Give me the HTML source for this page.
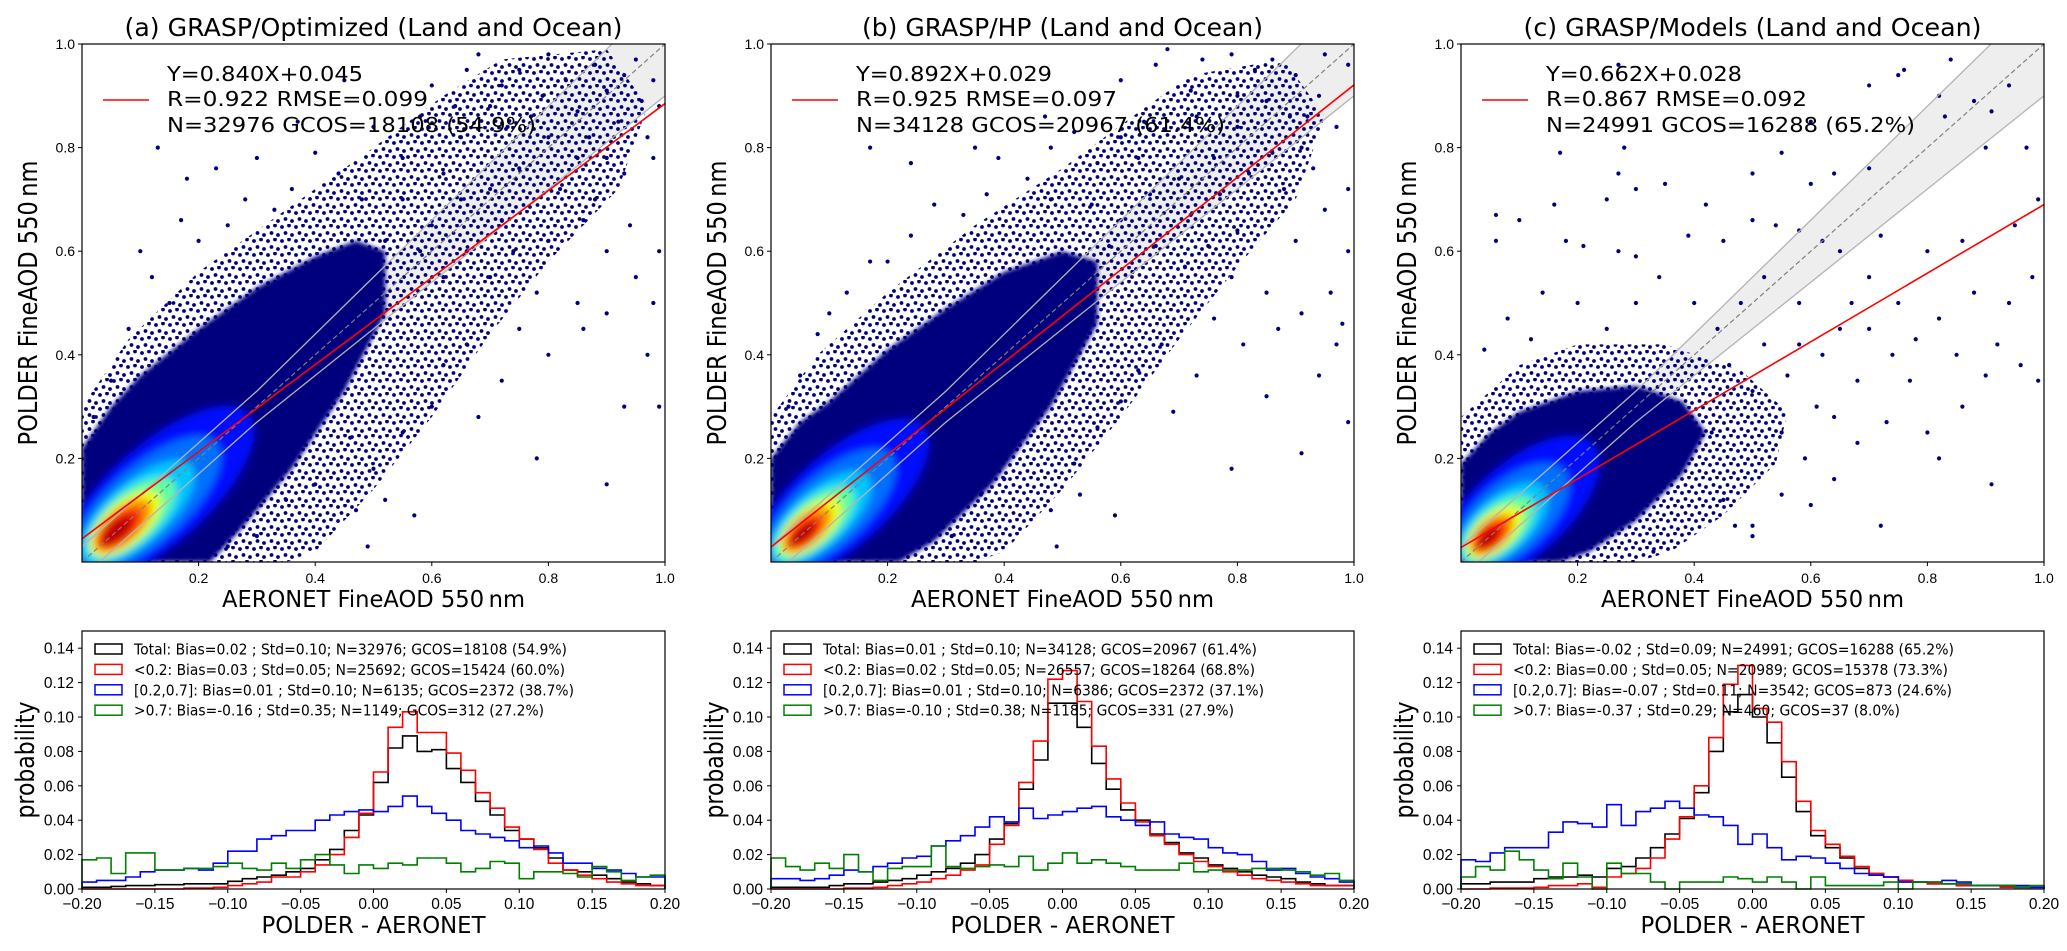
<!DOCTYPE html>
<html><head><meta charset="utf-8"><title>POLDER vs AERONET FineAOD</title>
<style>
html,body{margin:0;padding:0;background:#fff;}
svg{display:block;font-family:"DejaVu Sans","Liberation Sans",sans-serif;}
.tk{font-family:"Liberation Sans",sans-serif;font-size:14px;fill:#000;}
.htk{font-family:"Liberation Sans",sans-serif;font-size:15.5px;fill:#000;}
</style></head>
<body>
<svg id="fig" width="2067" height="951" viewBox="0 0 2067 951" xmlns="http://www.w3.org/2000/svg">
<defs>
<pattern id="stip" width="14" height="14" patternUnits="userSpaceOnUse"><circle cx="2" cy="3" r="1.9" fill="#00007f"/><circle cx="9" cy="1.5" r="1.9" fill="#00007f"/><circle cx="5.5" cy="9" r="1.9" fill="#00007f"/><circle cx="12" cy="11" r="1.9" fill="#00007f"/></pattern>
<filter id="blur" x="-50%" y="-50%" width="200%" height="200%"><feGaussianBlur stdDeviation="4"/></filter>
<filter id="soft" x="-10%" y="-10%" width="120%" height="120%"><feGaussianBlur stdDeviation="2.5"/></filter>
</defs>
</svg>
<script>
// ---------- data ----------
const panelTitles=["(a) GRASP/Optimized (Land and Ocean)","(b) GRASP/HP (Land and Ocean)","(c) GRASP/Models (Land and Ocean)"];
const fitSlope=[0.840,0.892,0.662];
const fitIntercept=[0.045,0.029,0.028];
const statLine1=["Y=0.840X+0.045","Y=0.892X+0.029","Y=0.662X+0.028"];
const statLine2=["R=0.922  RMSE=0.099","R=0.925  RMSE=0.097","R=0.867  RMSE=0.092"];
const statLine3=["N=32976 GCOS=18108 (54.9%)","N=34128 GCOS=20967 (61.4%)","N=24991 GCOS=16288 (65.2%)"];
const scatterTicks=[0.2,0.4,0.6,0.8,1.0];
const scatterTickLabels=["0.2","0.4","0.6","0.8","1.0"];
const histXTicks=[-0.2,-0.15,-0.1,-0.05,0,0.05,0.1,0.15,0.2];
const histXTickLabels=["\u22120.20","\u22120.15","\u22120.10","\u22120.05","0.00","0.05","0.10","0.15","0.20"];
const histYTicks=[0,0.02,0.04,0.06,0.08,0.10,0.12,0.14];
const histYTickLabels=["0.00","0.02","0.04","0.06","0.08","0.10","0.12","0.14"];
const binStart=-0.2, binWidth=0.01;

const denseA=[[0,0.22],[0.05,0.3],[0.1,0.36],[0.2,0.45],[0.3,0.53],[0.4,0.59],[0.47,0.62],[0.52,0.6],[0.52,0.48],[0.45,0.33],[0.36,0.18],[0.27,0.06],[0.22,0],[0,0]];
const denseB=[[0,0.2],[0.05,0.27],[0.1,0.31],[0.2,0.41],[0.3,0.49],[0.4,0.56],[0.5,0.6],[0.56,0.58],[0.56,0.46],[0.48,0.3],[0.38,0.15],[0.28,0.04],[0.22,0],[0,0]];
const denseC=[[0,0.19],[0.05,0.25],[0.1,0.29],[0.2,0.33],[0.3,0.34],[0.38,0.31],[0.42,0.25],[0.38,0.17],[0.3,0.08],[0.22,0.02],[0.17,0],[0,0]];
const mediumA=[[0,0.3],[0.08,0.43],[0.2,0.56],[0.35,0.68],[0.5,0.8],[0.62,0.9],[0.72,0.97],[0.9,0.99],[0.97,0.88],[0.92,0.72],[0.8,0.58],[0.7,0.44],[0.6,0.28],[0.5,0.14],[0.4,0.02],[0.35,0],[0,0]];
const mediumB=[[0,0.28],[0.08,0.4],[0.2,0.52],[0.35,0.65],[0.5,0.76],[0.62,0.86],[0.72,0.94],[0.88,0.97],[0.95,0.86],[0.9,0.7],[0.8,0.57],[0.7,0.43],[0.6,0.28],[0.5,0.14],[0.4,0.02],[0.35,0],[0,0]];
const mediumC=[[0,0.28],[0.1,0.38],[0.2,0.42],[0.35,0.42],[0.48,0.37],[0.56,0.29],[0.54,0.19],[0.45,0.09],[0.36,0.02],[0.3,0],[0,0]];

// density levels: [centre, along-diagonal half length, across half width, colour]
const densA=[[0.13,0.22,0.09,"#0010ff"],[0.11,0.17,0.07,"#0070ff"],[0.095,0.13,0.055,"#00c8ff"],[0.085,0.1,0.045,"#60ffa0"],[0.075,0.08,0.037,"#e8ff10"],[0.07,0.065,0.03,"#ff9000"],[0.065,0.05,0.024,"#ff2000"],[0.06,0.035,0.017,"#c00000"]];
const densB=[[0.12,0.2,0.085,"#0010ff"],[0.1,0.15,0.065,"#0070ff"],[0.085,0.115,0.05,"#00c8ff"],[0.075,0.09,0.04,"#60ffa0"],[0.068,0.07,0.032,"#e8ff10"],[0.062,0.055,0.026,"#ff9000"],[0.058,0.04,0.02,"#ff2000"],[0.055,0.028,0.014,"#c00000"]];
const densC=[[0.1,0.18,0.085,"#0010ff"],[0.085,0.13,0.065,"#0070ff"],[0.072,0.1,0.05,"#00c8ff"],[0.064,0.08,0.04,"#60ffa0"],[0.058,0.062,0.032,"#e8ff10"],[0.053,0.048,0.026,"#ff9000"],[0.05,0.036,0.02,"#ff2000"],[0.047,0.025,0.014,"#c00000"]];

const pointsA=[[0.68,0.98],[0.75,0.95],[0.72,0.92],[0.8,0.98],[0.83,0.93],[0.88,0.96],[0.9,0.91],[0.95,0.97],[0.98,0.93],[0.7,0.88],[0.77,0.86],[0.85,0.87],[0.92,0.85],[0.97,0.82],[0.65,0.82],[0.58,0.86],[0.5,0.84],[0.45,0.93],[0.37,0.85],[0.13,0.8],[0.23,0.76],[0.18,0.74],[0.3,0.78],[0.4,0.79],[0.55,0.78],[0.62,0.75],[0.75,0.76],[0.82,0.72],[0.88,0.7],[0.93,0.75],[0.98,0.78],[0.94,0.65],[0.99,0.6],[0.9,0.6],[0.86,0.66],[0.8,0.62],[0.74,0.6],[0.7,0.55],[0.78,0.52],[0.85,0.5],[0.9,0.48],[0.95,0.55],[0.97,0.4],[0.93,0.3],[0.86,0.45],[0.8,0.4],[0.75,0.45],[0.72,0.35],[0.66,0.42],[0.62,0.38],[0.6,0.3],[0.68,0.28],[0.78,0.2],[0.55,0.25],[0.5,0.18],[0.47,0.1],[0.52,0.12],[0.57,0.09],[0.49,0.03],[0.9,0.15],[0.46,0.24],[0.42,0.3],[0.35,0.12],[0.3,0.05],[0.25,0.03],[0.4,0.15],[0.32,0.22],[0.1,0.6],[0.08,0.45],[0.12,0.55],[0.15,0.5],[0.2,0.62],[0.25,0.65],[0.28,0.7],[0.33,0.68],[0.36,0.72],[0.44,0.75],[0.48,0.7],[0.05,0.35],[0.02,0.28],[0.17,0.66],[0.6,0.65],[0.65,0.7],[0.7,0.72],[0.66,0.6],[0.62,0.55],[0.58,0.6],[0.55,0.7],[0.52,0.62],[0.72,0.66],[0.8,0.82],[0.85,0.78],[0.6,0.92],[0.66,0.95],[0.9,0.78],[0.98,0.5],[0.99,0.88],[0.96,0.89],[0.93,0.94],[0.87,0.82],[0.79,0.9],[0.73,0.84],[0.64,0.88],[0.99,0.3]];
const pointsB=[[0.68,0.99],[0.74,0.97],[0.79,0.98],[0.83,0.95],[0.86,0.97],[0.9,0.94],[0.95,0.98],[0.99,0.96],[0.72,0.91],[0.8,0.9],[0.85,0.89],[0.92,0.86],[0.97,0.84],[0.64,0.85],[0.6,0.82],[0.52,0.83],[0.47,0.86],[0.35,0.8],[0.17,0.8],[0.24,0.77],[0.39,0.78],[0.48,0.8],[0.56,0.77],[0.63,0.78],[0.76,0.78],[0.82,0.75],[0.88,0.72],[0.93,0.76],[0.99,0.72],[0.95,0.68],[0.99,0.6],[0.9,0.62],[0.86,0.66],[0.8,0.64],[0.75,0.61],[0.71,0.57],[0.79,0.55],[0.85,0.52],[0.91,0.48],[0.96,0.52],[0.97,0.42],[0.94,0.36],[0.87,0.45],[0.81,0.42],[0.76,0.47],[0.73,0.36],[0.67,0.42],[0.63,0.37],[0.6,0.31],[0.69,0.29],[0.79,0.18],[0.56,0.26],[0.52,0.19],[0.48,0.1],[0.53,0.13],[0.59,0.09],[0.49,0.03],[0.91,0.21],[0.85,0.32],[0.99,0.27],[0.41,0.23],[0.36,0.13],[0.31,0.05],[0.4,0.16],[0.33,0.22],[0.1,0.48],[0.08,0.44],[0.13,0.52],[0.17,0.58],[0.2,0.58],[0.24,0.63],[0.28,0.69],[0.33,0.67],[0.37,0.71],[0.44,0.74],[0.48,0.7],[0.05,0.36],[0.03,0.3],[0.6,0.66],[0.65,0.71],[0.7,0.74],[0.66,0.61],[0.62,0.56],[0.58,0.61],[0.55,0.69],[0.72,0.67],[0.8,0.84],[0.86,0.79],[0.6,0.93],[0.66,0.96],[0.91,0.8],[0.98,0.46],[0.94,0.9],[0.89,0.86],[0.73,0.86],[0.77,0.71]];
const pointsC=[[0.27,0.96],[0.28,0.8],[0.17,0.79],[0.7,0.92],[0.75,0.94],[0.84,0.97],[0.76,0.95],[0.82,0.9],[0.88,0.89],[0.91,0.87],[0.94,0.92],[0.97,0.8],[0.9,0.8],[0.83,0.86],[0.6,0.85],[0.55,0.79],[0.5,0.75],[0.6,0.73],[0.64,0.75],[0.7,0.76],[0.42,0.69],[0.35,0.73],[0.27,0.75],[0.3,0.72],[0.25,0.7],[0.16,0.69],[0.06,0.67],[0.06,0.62],[0.1,0.66],[0.18,0.62],[0.21,0.61],[0.27,0.6],[0.3,0.59],[0.39,0.63],[0.45,0.62],[0.5,0.66],[0.54,0.65],[0.58,0.64],[0.62,0.62],[0.65,0.6],[0.72,0.63],[0.8,0.6],[0.86,0.62],[0.95,0.65],[0.99,0.7],[0.98,0.55],[0.94,0.5],[0.88,0.52],[0.82,0.47],[0.78,0.43],[0.75,0.5],[0.7,0.55],[0.92,0.42],[0.96,0.38],[0.99,0.35],[0.9,0.36],[0.86,0.3],[0.8,0.25],[0.77,0.35],[0.73,0.27],[0.68,0.23],[0.64,0.16],[0.6,0.11],[0.55,0.13],[0.5,0.07],[0.47,0.07],[0.72,0.07],[0.82,0.2],[0.91,0.15],[0.59,0.2],[0.55,0.25],[0.61,0.3],[0.68,0.35],[0.65,0.45],[0.58,0.5],[0.52,0.55],[0.48,0.5],[0.44,0.45],[0.4,0.5],[0.34,0.55],[0.3,0.5],[0.2,0.5],[0.14,0.52],[0.08,0.47],[0.04,0.41],[0.12,0.43],[0.25,0.45],[0.5,0.05],[0.33,0.02],[0.45,0.12],[0.7,0.45],[0.74,0.4],[0.85,0.4],[0.64,0.28],[0.56,0.36],[0.52,0.42],[0.62,0.4],[0.67,0.5],[0.58,0.42],[0.46,0.38],[0.5,0.33],[0.43,0.25]];

const histTotalA=[0.001,0.001,0.0015,0.002,0.002,0.0025,0.0025,0.003,0.003,0.003,0.0045,0.006,0.007,0.008,0.010,0.012,0.017,0.023,0.034,0.043,0.062,0.082,0.089,0.080,0.081,0.070,0.062,0.051,0.043,0.034,0.029,0.024,0.018,0.011,0.010,0.008,0.006,0.004,0.003,0.002];
const histLowA=[0,0,0,0,0,0,0,0.0005,0.0005,0.001,0.002,0.003,0.004,0.007,0.007,0.010,0.014,0.020,0.030,0.044,0.068,0.094,0.103,0.091,0.091,0.079,0.069,0.056,0.047,0.036,0.029,0.023,0.015,0.011,0.008,0.006,0.004,0.003,0.002,0.002];
const histMidA=[0.004,0.005,0.005,0.007,0.010,0.011,0.011,0.012,0.011,0.015,0.022,0.022,0.029,0.031,0.034,0.034,0.040,0.043,0.045,0.046,0.045,0.048,0.054,0.048,0.044,0.040,0.034,0.032,0.030,0.028,0.024,0.025,0.021,0.015,0.015,0.012,0.011,0.009,0.007,0.007];
const histHighA=[0.017,0.018,0.009,0.021,0.021,0.011,0.011,0.012,0.012,0.013,0.015,0.012,0.011,0.015,0.012,0.017,0.020,0.014,0.009,0.014,0.012,0.015,0.014,0.018,0.018,0.015,0.010,0.012,0.016,0.015,0.006,0.010,0.010,0.009,0.007,0.013,0.010,0.005,0.007,0.008];
const histTotalB=[0.001,0.001,0.001,0.001,0.002,0.003,0.003,0.004,0.005,0.006,0.008,0.010,0.012,0.015,0.020,0.029,0.038,0.058,0.075,0.108,0.108,0.094,0.073,0.058,0.046,0.040,0.032,0.027,0.021,0.018,0.014,0.012,0.010,0.008,0.007,0.006,0.004,0.003,0.002,0.002];
const histLowB=[0,0,0,0,0,0.0005,0.0005,0.001,0.002,0.003,0.004,0.006,0.008,0.011,0.014,0.026,0.037,0.062,0.086,0.122,0.127,0.109,0.083,0.064,0.050,0.039,0.031,0.026,0.020,0.016,0.013,0.010,0.008,0.006,0.005,0.004,0.003,0.002,0.002,0.002];
const histMidB=[0.006,0.006,0.005,0.006,0.008,0.011,0.010,0.013,0.015,0.018,0.019,0.025,0.028,0.031,0.036,0.042,0.039,0.047,0.041,0.043,0.045,0.047,0.048,0.042,0.040,0.037,0.039,0.032,0.030,0.029,0.024,0.021,0.020,0.016,0.011,0.012,0.009,0.007,0.006,0.004];
const histHighB=[0.018,0.013,0.011,0.015,0.012,0.020,0.010,0.005,0.012,0.013,0.013,0.025,0.013,0.012,0.013,0.014,0.013,0.019,0.011,0.015,0.021,0.015,0.017,0.015,0.013,0.011,0.011,0.011,0.015,0.010,0.011,0.011,0.011,0.012,0.012,0.011,0.010,0.008,0.009,0.005];
const histTotalC=[0.003,0.003,0.004,0.004,0.004,0.006,0.007,0.007,0.008,0.007,0.012,0.013,0.018,0.024,0.032,0.041,0.056,0.080,0.103,0.113,0.100,0.085,0.065,0.045,0.031,0.024,0.018,0.012,0.009,0.007,0.005,0.004,0.003,0.003,0.002,0.002,0.002,0.002,0.001,0.001];
const histLowC=[0,0,0.0005,0.0005,0.0005,0.001,0.002,0.002,0.003,0.001,0.007,0.009,0.012,0.018,0.029,0.042,0.060,0.088,0.119,0.130,0.105,0.097,0.074,0.051,0.034,0.026,0.019,0.013,0.009,0.007,0.005,0.004,0.003,0.003,0.002,0.002,0.002,0.001,0.001,0.001];
const histMidC=[0.017,0.016,0.021,0.024,0.024,0.024,0.033,0.039,0.038,0.036,0.049,0.037,0.045,0.047,0.051,0.047,0.043,0.042,0.037,0.026,0.032,0.024,0.017,0.019,0.018,0.015,0.012,0.009,0.008,0.007,0.004,0.004,0.004,0.005,0.004,0.002,0.002,0.002,0.002,0.001];
const histHighC=[0.007,0.013,0.011,0.022,0.017,0.011,0.006,0.015,0.007,0.000,0.015,0.009,0.009,0.004,0.000,0.004,0.004,0.004,0.007,0.006,0.004,0.007,0.004,0.000,0.007,0.002,0.002,0.002,0.002,0.004,0.000,0.004,0.004,0.003,0.003,0.002,0.002,0.002,0.001,0.002];

const legendA=["Total: Bias=0.02 ; Std=0.10; N=32976; GCOS=18108 (54.9%)","<0.2: Bias=0.03 ; Std=0.05; N=25692; GCOS=15424 (60.0%)","[0.2,0.7]: Bias=0.01 ; Std=0.10; N=6135; GCOS=2372 (38.7%)",">0.7: Bias=-0.16 ; Std=0.35; N=1149; GCOS=312 (27.2%)"];
const legendB=["Total: Bias=0.01 ; Std=0.10; N=34128; GCOS=20967 (61.4%)","<0.2: Bias=0.02 ; Std=0.05; N=26557; GCOS=18264 (68.8%)","[0.2,0.7]: Bias=0.01 ; Std=0.10; N=6386; GCOS=2372 (37.1%)",">0.7: Bias=-0.10 ; Std=0.38; N=1185; GCOS=331 (27.9%)"];
const legendC=["Total: Bias=-0.02 ; Std=0.09; N=24991; GCOS=16288 (65.2%)","<0.2: Bias=0.00 ; Std=0.05; N=20989; GCOS=15378 (73.3%)","[0.2,0.7]: Bias=-0.07 ; Std=0.11; N=3542; GCOS=873 (24.6%)",">0.7: Bias=-0.37 ; Std=0.29; N=460; GCOS=37 (8.0%)"];

// ---------- layout ----------
const NS="http://www.w3.org/2000/svg";
const svg=document.getElementById("fig");
const PL=[82,771,1461], PW=583, ST=44, SH=518, HT=631, HB=889;
const titleLen=[498,401,458];
const legendLen=[[433,431,440,410],[434,432,441,411],[441,435,439,387]];
const sx=(p,v)=>PL[p]+v*PW;
const sy=v=>ST+(1-v)*SH;
const hx=(p,v)=>PL[p]+(v+0.2)/0.4*PW;
const hy=v=>HB-v/0.15*(HB-HT);
function mk(tag,attrs,parent){const e=document.createElementNS(NS,tag);for(const k in attrs)e.setAttribute(k,attrs[k]);(parent||svg).appendChild(e);return e;}
function txt(s,attrs,parent){const e=mk("text",attrs,parent);e.textContent=s;return e;}
const polyPts=(p,arr)=>arr.map(d=>sx(p,d[0]).toFixed(1)+","+sy(d[1]).toFixed(1)).join(" ");

const dense=[denseA,denseB,denseC], medium=[mediumA,mediumB,mediumC], dens=[densA,densB,densC], points=[pointsA,pointsB,pointsC];
const hists=[[histTotalA,histLowA,histMidA,histHighA],[histTotalB,histLowB,histMidB,histHighB],[histTotalC,histLowC,histMidC,histHighC]];
const legends=[legendA,legendB,legendC];
const seriesColors=["#000000","#ff0000","#0000ff","#008000"];
const seriesNames=["total","lt-0.2","0.2-0.7","gt-0.7"];
const ang=Math.atan2(-SH,PW)*180/Math.PI;
const diagScale=Math.sqrt(PW*PW+SH*SH)/Math.SQRT2;

for(let p=0;p<3;p++){
  const L=PL[p];
  const cp=mk("clipPath",{id:"clip"+p},svg.querySelector("defs"));
  mk("rect",{x:L,y:ST,width:PW,height:SH},cp);
  const g=mk("g",{"clip-path":"url(#clip"+p+")"});
  
  
  const bx=[0,0.3,1];
  const up=bx.map(x=>[x,Math.max(x+0.03,1.1*x)]);
  const lo=bx.map(x=>[x,Math.min(x-0.03,0.9*x)]).reverse();
  const band=mk("polygon",{points:polyPts(p,up.concat(lo)),fill:"#eeeeee"},g);
  
  
  const med=mk("polygon",{points:polyPts(p,medium[p]),fill:"url(#stip)"},g);
  
  
  const den=mk("polygon",{points:polyPts(p,dense[p]),fill:"#00007f",filter:"url(#soft)"},g);
  
  
  const dg=mk("g",{filter:"url(#blur)"},g);
  
  
  dens[p].forEach(d=>{
    const e=mk("ellipse",{cx:sx(p,d[0]),cy:sy(d[0]),rx:d[1]*diagScale,ry:d[2]*diagScale,fill:d[3],transform:"rotate("+ang+" "+sx(p,d[0])+" "+sy(d[0])+")"},dg);
    
    
  });
  points[p].forEach(d=>{
    const c=mk("circle",{cx:sx(p,d[0]),cy:sy(d[1]),r:2.1,fill:"#00007f"},g);
    
    
  });
  const ul=mk("polyline",{points:polyPts(p,up),fill:"none",stroke:"#b4b4b4","stroke-width":1.3},g);
  
  
  const ll=mk("polyline",{points:polyPts(p,lo),fill:"none",stroke:"#b4b4b4","stroke-width":1.3},g);
  
  
  const one=mk("line",{x1:sx(p,0),y1:sy(0),x2:sx(p,1),y2:sy(1),stroke:"#808080","stroke-width":1.2,"stroke-dasharray":"5,3"},g);
  
  
  const fit=mk("line",{x1:sx(p,0),y1:sy(fitIntercept[p]),x2:sx(p,1),y2:sy(fitSlope[p]+fitIntercept[p]),stroke:"#ff0000","stroke-width":1.6},g);
  
  
  const fr=mk("rect",{x:L,y:ST,width:PW,height:SH,fill:"none",stroke:"#000","stroke-width":1.2});
  
  
  scatterTicks.forEach((t,i)=>{
    const a=mk("line",{x1:sx(p,t),y1:ST+SH,x2:sx(p,t),y2:ST+SH+4,stroke:"#000"});
    
    
    const tl=txt(scatterTickLabels[i],{x:sx(p,t),y:583,"text-anchor":"middle",class:"tk"});
    
    
    const b=mk("line",{x1:L-4,y1:sy(t),x2:L,y2:sy(t),stroke:"#000"});
    
    
    const yl=txt(scatterTickLabels[i],{x:L-7,y:sy(t)+5,"text-anchor":"end",class:"tk"});
    
    
  });
  const ttl=txt(panelTitles[p],{x:L+PW/2,y:36,"text-anchor":"middle","font-size":25,textLength:titleLen[p],lengthAdjust:"spacingAndGlyphs"});
  
  
  const xl=txt("AERONET FineAOD 550\u2009nm",{x:L+PW/2,y:607,"text-anchor":"middle","font-size":23,textLength:303,lengthAdjust:"spacingAndGlyphs"});
  
  
  const yl=txt("POLDER FineAOD 550\u2009nm",{x:0,y:0,"text-anchor":"middle","font-size":19,textLength:285,lengthAdjust:"spacingAndGlyphs",transform:"translate("+(L-45)+","+(ST+SH/2)+") scale(1.35,1) rotate(-90)"});
  
  
  const ll1=mk("line",{x1:L+21,y1:100,x2:L+67,y2:100,stroke:"#ff0000","stroke-width":1.6});
  
  
  const s1=txt(statLine1[p],{x:L+85,y:81,"font-size":20,textLength:196,lengthAdjust:"spacingAndGlyphs"});
  
  
  const s2=txt(statLine2[p],{x:L+85,y:106,"font-size":20,textLength:261,lengthAdjust:"spacingAndGlyphs","xml:space":"preserve"});
  
  
  const s3=txt(statLine3[p],{x:L+85,y:132,"font-size":20,textLength:369,lengthAdjust:"spacingAndGlyphs"});
  
  

  // ---------- histogram ----------
  const hg=mk("g",{});
  
  
  hists[p].forEach((vals,s)=>{
    let d="M"+hx(p,binStart).toFixed(1)+","+hy(0).toFixed(1);
    vals.forEach((v,i)=>{
      const x0=hx(p,binStart+i*binWidth), x1=hx(p,binStart+(i+1)*binWidth), y=hy(v);
      d+=" L"+x0.toFixed(1)+","+y.toFixed(1)+" L"+x1.toFixed(1)+","+y.toFixed(1);
    });
    d+=" L"+hx(p,binStart+vals.length*binWidth).toFixed(1)+","+hy(0).toFixed(1);
    const path=mk("path",{d:d,fill:"none",stroke:seriesColors[s],"stroke-width":1.6},hg);
    
    
  });
  const hf=mk("rect",{x:L,y:HT,width:PW,height:HB-HT,fill:"none",stroke:"#000","stroke-width":1.2});
  
  
  histXTicks.forEach((t,i)=>{
    const a=mk("line",{x1:hx(p,t),y1:HB,x2:hx(p,t),y2:HB+4,stroke:"#000"});
    
    
    const tl=txt(histXTickLabels[i],{x:hx(p,t),y:909,"text-anchor":"middle",class:"htk"});
    
    
  });
  histYTicks.forEach((t,i)=>{
    const a=mk("line",{x1:L-4,y1:hy(t),x2:L,y2:hy(t),stroke:"#000"});
    
    
    const tl=txt(histYTickLabels[i],{x:L-8,y:hy(t)+5.5,"text-anchor":"end",class:"htk"});
    
    
  });
  const hxl=txt("POLDER - AERONET",{x:L+PW/2,y:933,"text-anchor":"middle","font-size":23,textLength:224,lengthAdjust:"spacingAndGlyphs"});
  
  
  const hyl=txt("probability",{x:0,y:0,"text-anchor":"middle","font-size":19,textLength:117,lengthAdjust:"spacingAndGlyphs",transform:"translate("+(L-48)+","+(HT+(HB-HT)/2)+") scale(1.35,1) rotate(-90)"});
  
  
  legends[p].forEach((s,i)=>{
    const cy=649+i*20.4;
    const box=mk("rect",{x:L+13,y:cy-5,width:27,height:10,fill:"none",stroke:seriesColors[i],"stroke-width":1.5});
    
    
    const lt=txt(s,{x:L+52,y:cy+5.5,"font-size":15,textLength:legendLen[p][i],lengthAdjust:"spacingAndGlyphs"});
    
    
  });
}
</script>
</body></html>
